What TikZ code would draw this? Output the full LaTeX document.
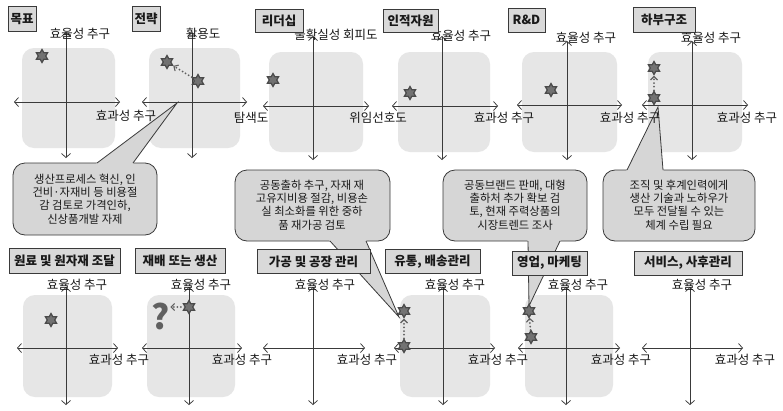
\documentclass[tikz,border=0pt]{standalone}
\usepackage{fontspec}
\setmainfont{Noto Sans CJK KR}
\usetikzlibrary{shapes.geometric,arrows.meta}
\definecolor{axisc}{HTML}{3A3A3A}
\definecolor{panelc}{HTML}{E6E6E6}
\definecolor{titlefill}{HTML}{D9D9D9}
\definecolor{callfill}{HTML}{D6D6D6}
\definecolor{starfill}{HTML}{727272}
\definecolor{stardraw}{HTML}{4A4A4A}
\definecolor{dotc}{HTML}{606060}
\begin{document}
\begin{tikzpicture}[x=1pt,y=-1pt,
  ax/.style={draw=axisc, line width=0.75pt,
    {Straight Barb[length=4pt,width=9pt,line width=0.75pt]}-{Straight Barb[length=4pt,width=9pt,line width=0.75pt]}},
  panel/.style={fill=panelc, rounded corners=12pt},
  lab/.style={font=\fontsize{12.5}{14}\selectfont, inner sep=0pt, text=black!90},
  ttl/.style={draw=axisc, fill=titlefill, line width=0.8pt, inner sep=0pt,
    font=\bfseries\fontsize{12.5}{14}\selectfont, text=black!90},
  st/.style={star, star points=6, star point ratio=1.75, minimum size=13pt, inner sep=0pt,
    fill=starfill, draw=stardraw, line width=1.2pt},
  dotarrow/.style={draw=dotc, line width=2pt, line cap=round, dash pattern=on 0pt off 3.6pt,
    -{Straight Barb[length=3.5pt,width=7pt,line width=1.1pt]}},
  callbox/.style={draw=axisc, fill=callfill, line width=0.8pt, rounded corners=12pt},
  callline/.style={draw=axisc, line width=0.8pt},
  calltext/.style={align=center, inner sep=0pt, font=\fontsize{11.3}{13.4}\selectfont, text=black!90},
  qm/.style={inner sep=0pt, text=dotc, font=\bfseries\fontsize{34}{34}\selectfont}
]
\useasboundingbox (0,0) rectangle (783,410);
\fill[white] (0,0) rectangle (783,410);

% ---------- gray panels ----------
\fill[panel] (22,48) rectangle (115,148);
\fill[panel] (149,48) rectangle (240,148);
\fill[panel] (269,52) rectangle (363,152);
\fill[panel] (398,52) rectangle (490,152);
\fill[panel] (522,52) rectangle (617,152);
\fill[panel] (648,52) rectangle (742,152);
\fill[panel] (23,295) rectangle (112,397);
\fill[panel] (147,295) rectangle (235,397);
\fill[panel] (400,295) rectangle (490,397);
\fill[panel] (525,295) rectangle (613,397);

% ---------- callouts ----------
\coordinate (t1) at (177,103);
\draw[callbox] (13,163) rectangle (157,235);
\fill[callfill] (96,164.2) -- (97,163) -- (t1) -- (133,163) -- (134,164.2) -- cycle;
\draw[callline] (97,163) -- (t1) -- (133,163);
\node[calltext] (c1) at (85,199) {생산프로세스 혁신, 인\\건비·자재비 등 비용절\\감 검토로 가격인하,\\신상품개발 자제};

\coordinate (t2) at (399,317);
\draw[callbox] (235,170) rectangle (390,241);
\fill[callfill] (329,239.8) -- (330,241) -- (t2) -- (366,241) -- (367,239.8) -- cycle;
\draw[callline] (330,241) -- (t2) -- (366,241);
\node[calltext] (c2) at (312,205) {공동출하 추구, 자재 재\\고유지비용 절감, 비용손\\실 최소화를 위한 중하\\품 재가공 검토};

\coordinate (t3) at (529,306);
\draw[callbox] (443,170) rectangle (587,241);
\fill[callfill] (527,239.8) -- (528,241) -- (t3) -- (560,241) -- (561,239.8) -- cycle;
\draw[callline] (528,241) -- (t3) -- (560,241);
\node[calltext] (c3) at (515,205) {공동브랜드 판매, 대형\\출하처 추가 확보 검\\토, 현재 주력상품의\\시장트렌드 조사};

\coordinate (t4) at (658,107);
\draw[callbox] (603,170) rectangle (755,241);
\fill[callfill] (626,171.2) -- (627,170) -- (t4) -- (663,170) -- (664,171.2) -- cycle;
\draw[callline] (627,170) -- (t4) -- (663,170);
\node[calltext] (c4) at (679,205) {조직 및 후계인력에게\\생산 기술과 노하우가\\모두 전달될 수 있는\\체계 수립 필요};

% ---------- axes top row ----------
\draw[ax] (14,102) -- (120,102);   \draw[ax] (66,32) -- (66,158);
\draw[ax] (142,102) -- (247,102);  \draw[ax] (192,32) -- (192,158);
\draw[ax] (263,106) -- (369,106);  \draw[ax] (313,36) -- (313,160);
\draw[ax] (392,106) -- (498,106);  \draw[ax] (442,36) -- (442,160);
\draw[ax] (517,105) -- (622,105);  \draw[ax] (567,41) -- (567,160);
\draw[ax] (642,105) -- (748,105);  \draw[ax] (692,41) -- (692,160);

% ---------- axes bottom row ----------
\draw[ax] (17,348) -- (118,348);   \draw[ax] (66,287) -- (66,405);
\draw[ax] (142,348) -- (242,348);  \draw[ax] (189,287) -- (189,405);
\draw[ax] (263,348) -- (365,348);  \draw[ax] (313,287) -- (313,405);
\draw[ax] (394,348) -- (495,348);  \draw[ax] (443,287) -- (443,405);
\draw[ax] (518,348) -- (620,348);  \draw[ax] (566,287) -- (566,405);
\draw[ax] (642,348) -- (743,348);  \draw[ax] (690,287) -- (690,405);

% ---------- axis labels top ----------
\node[lab] (l1a) at (80,34) {효율성 추구};
\node[lab] (l1b) at (126,116) {효과성 추구};
\node[lab] (l2a) at (203,34) {활용도};
\node[lab] (l2b) at (251,118) {탐색도};
\node[lab] (l3a) at (336,35) {불확실성 회피도};
\node[lab] (l3b) at (378,118) {위임선호도};
\node[lab] (l4a) at (461,36) {효율성 추구};
\node[lab] (l4b) at (504,118) {효과성 추구};
\node[lab] (l5a) at (586,38) {효율성 추구};
\node[lab] (l5b) at (630,118) {효과성 추구};
\node[lab] (l6a) at (711,38) {효율성 추구};
\node[lab] (l6b) at (747,118) {효과성 추구};

% ---------- axis labels bottom ----------
\node[lab] (m1a) at (77,285) {효율성 추구};
\node[lab] (m1b) at (119,360) {효과성 추구};
\node[lab] (m2a) at (201,285) {효율성 추구};
\node[lab] (m2b) at (242,360) {효과성 추구};
\node[lab] (m3a) at (325,285) {효율성 추구};
\node[lab] (m3b) at (367,360) {효과성 추구};
\node[lab] (m4a) at (455,285) {효율성 추구};
\node[lab] (m4b) at (498,360) {효과성 추구};
\node[lab] (m5a) at (578,285) {효율성 추구};
\node[lab] (m5b) at (621,360) {효과성 추구};
\node[lab] (m6a) at (702,285) {효율성 추구};
\node[lab] (m6b) at (745,360) {효과성 추구};

% ---------- stars ----------
\node[st] (s1) at (42,56) {};
\node[st] (s2a) at (167,62) {};
\node[st] (s2b) at (198,81) {};
\draw[dotarrow] (s2b) -- (s2a);
\node[st] (s3) at (273,80) {};
\node[st] (s4) at (410,93) {};
\node[st] (s5) at (551,90) {};
\node[st] (s6a) at (654,68) {};
\node[st] (s6b) at (654,98) {};
\draw[dotarrow] (s6b) -- (s6a);

\node[st] (b1) at (51,320) {};
\node[st] (b2) at (189,307) {};
\node[qm] (q) at (161,316) {?};
\draw[dotarrow] (b2) -- (b2 -| q.east);
\node[st] (b4a) at (404,311) {};
\node[st] (b4b) at (404,346) {};
\draw[dotarrow] (b4b) -- (b4a);
\node[st] (b5a) at (529,311) {};
\node[st] (b5b) at (531,337) {};
\draw[dotarrow] (b5b) -- (b5a);

% ---------- title boxes ----------
\node[ttl, minimum width=28pt, minimum height=25pt] (h1) at (22,19) {목표};
\node[ttl, minimum width=28pt, minimum height=25pt] (h2) at (146,19) {전략};
\node[ttl, minimum width=48pt, minimum height=23pt] (h3) at (279,21) {리더십};
\node[ttl, minimum width=55pt, minimum height=23pt] (h4) at (410.5,21) {인적자원};
\node[ttl, minimum width=37pt, minimum height=24pt] (h5) at (526.5,20) {R\&D};
\node[ttl, minimum width=62pt, minimum height=25pt] (h6) at (664,19.5) {하부구조};

\node[ttl, minimum width=111pt, minimum height=25pt] (g1) at (64.5,260.5) {원료 및 원자재 조달};
\node[ttl, minimum width=90pt, minimum height=25pt] (g2) at (180,260.5) {재배 또는 생산};
\node[ttl, minimum width=113pt, minimum height=24pt] (g3) at (313.5,261.5) {가공 및 공장 관리};
\node[ttl, minimum width=95pt, minimum height=24pt] (g4) at (432.5,261.5) {유통, 배송관리};
\node[ttl, minimum width=75pt, minimum height=24pt] (g5) at (549.5,263) {영업, 마케팅};
\node[ttl, minimum width=108pt, minimum height=24pt] (g6) at (688,263) {서비스, 사후관리};
\end{tikzpicture}
\end{document}
